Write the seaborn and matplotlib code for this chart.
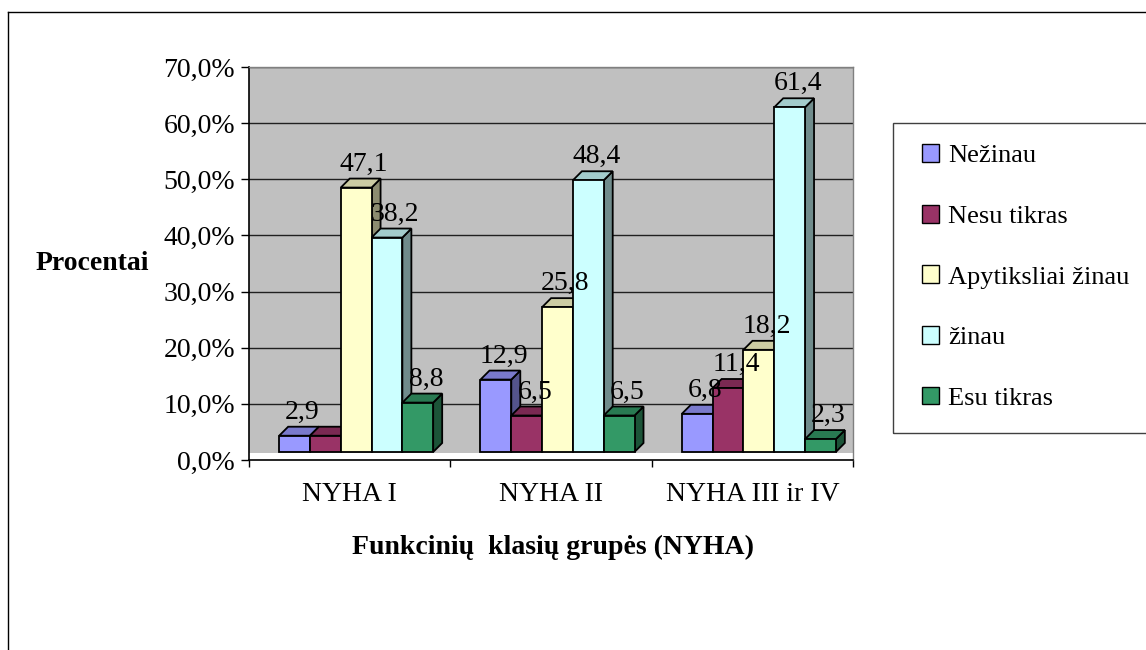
import numpy as np
import pandas as pd
import matplotlib
matplotlib.use("Agg")
import matplotlib.pyplot as plt
import seaborn as sns
from matplotlib.patches import Polygon, Rectangle
from matplotlib.lines import Line2D
from matplotlib.transforms import ScaledTranslation, IdentityTransform
from matplotlib.colors import to_rgb

# ---- data ----
groups = ["NYHA I", "NYHA II", "NYHA III ir IV"]
answers = ["Nežinau", "Nesu tikras", "Apytiksliai žinau", "žinau", "Esu tikras"]
nezinau = [2.9, 12.9, 6.8]
nesu_tikras = [2.9, 6.5, 11.4]
apytiksliai_zinau = [47.1, 25.8, 18.2]
zinau = [38.2, 48.4, 61.4]
esu_tikras = [8.8, 6.5, 2.3]
# value labels drawn above the bars (one "2,9" only in the first group)
show_label = [[True, True, True], [False, True, True], [True, True, True],
              [True, True, True], [True, True, True]]
colors = ["#9999FF", "#993366", "#FFFFCC", "#CCFFFF", "#339966"]
yticks = [0, 10, 20, 30, 40, 50, 60, 70]

series = [nezinau, nesu_tikras, apytiksliai_zinau, zinau, esu_tikras]
df = pd.DataFrame({
    "grupe": groups * len(answers),
    "atsakymas": np.repeat(answers, len(groups)),
    "procentai": np.concatenate(series),
})

plt.rcParams["font.family"] = ["Liberation Serif", "DejaVu Serif"]
FS = 20

W, H = 1146, 650
DPI = 100
fig = plt.figure(figsize=(W / DPI, H / DPI), dpi=DPI)
fig.patch.set_facecolor("white")
ax = fig.add_axes([249 / W, (H - 460) / H, (853 - 249) / W, (460 - 67) / H])
ax.set_facecolor("#C0C0C0")

sns.barplot(data=df, x="grupe", y="procentai", hue="atsakymas",
            order=groups, hue_order=answers, palette=colors, saturation=1,
            width=0.765, errorbar=None, edgecolor="black", linewidth=1.3,
            legend=False, ax=ax)

ax.set_xlim(-0.5, 2.5)
ax.set_ylim(0, 70)

# axis styling
ax.set_yticks(yticks)
ax.set_yticklabels([f"{v:.1f}%".replace(".", ",") for v in yticks], fontsize=FS)
ax.tick_params(axis="y", direction="out", length=6, width=1, pad=4, colors="black")
ax.set_xticks(range(len(groups)))
ax.set_xticklabels(groups, fontsize=FS)
ax.tick_params(axis="x", which="major", length=0, pad=16)
ax.set_xticks([-0.5, 0.5, 1.5, 2.5], minor=True)
ax.tick_params(axis="x", which="minor", direction="out", length=5, width=1)
ax.set_xlabel("")
ax.set_ylabel("")
ax.grid(axis="y", color="#202020", linewidth=1, zorder=0)
ax.set_axisbelow(True)
for s in ["left", "bottom"]:
    ax.spines[s].set_color("black")
    ax.spines[s].set_linewidth(1.2)
for s in ["top", "right"]:
    ax.spines[s].set_color("#808080")
    ax.spines[s].set_linewidth(1)

# white floor strip in front of the wall
floor_h = 7 / ax.bbox.height
ax.add_patch(Rectangle((0, 0), 1, floor_h, transform=ax.transAxes,
                       facecolor="white", edgecolor="none", zorder=1))

# 3D look: shift the front faces and add top / side faces
shift = ScaledTranslation(6.5 / DPI, 8 / DPI, fig.dpi_scale_trans)
front = ax.transData + shift
depth = 9  # pixels
for i, cont in enumerate(ax.containers):
    base = np.array(to_rgb(colors[i]))
    top_c = base * 0.8
    side_c = base * 0.55
    for j, rect in enumerate(cont.patches):
        z = 3 + i * 0.1
        rect.set_transform(front)
        rect.set_zorder(z + 0.02)
        x0 = rect.get_x()
        x1 = x0 + rect.get_width()
        h = rect.get_height()
        (ax0, ay0), (ax1, ay1) = front.transform([(x0, 0), (x1, h)])
        top = [(ax0, ay1), (ax1, ay1), (ax1 + depth, ay1 + depth), (ax0 + depth, ay1 + depth)]
        side = [(ax1, ay0), (ax1 + depth, ay0 + depth), (ax1 + depth, ay1 + depth), (ax1, ay1)]
        for pts, c in ((side, side_c), (top, top_c)):
            ax.add_patch(Polygon(pts, closed=True, facecolor=c, edgecolor="black",
                                 linewidth=1.3, transform=IdentityTransform(),
                                 zorder=z, clip_on=False))
        if show_label[i][j]:
            ax.annotate(f"{h:.1f}".replace(".", ","), (x0 + rect.get_width() / 2, h),
                        xytext=(6.5 + 8, 8 + 17), textcoords="offset pixels",
                        ha="center", va="baseline", fontsize=FS, zorder=10)

# axis titles
fig.text(92 / W, 1 - 264 / H, "Procentai", fontsize=FS, fontweight="bold",
         ha="center", va="center")
fig.text(553 / W, 1 - 547 / H, "Funkcinių  klasių grupės (NYHA)", fontsize=FS,
         fontweight="bold", ha="center", va="center")

# legend
handles = [Rectangle((0, 0), 1, 1, facecolor=c, edgecolor="black", linewidth=1)
           for c in colors]
leg = fig.legend(handles, answers, loc="center left",
                 bbox_to_anchor=(922 / W, 1 - 277 / H), frameon=False,
                 fontsize=19, handlelength=0.65, handleheight=0.65,
                 handletextpad=0.35, labelspacing=1.42, borderpad=0,
                 borderaxespad=0)
fig.add_artist(Rectangle((893 / W, 1 - 433 / H), (1160 - 893) / W, (433 - 123) / H,
                         transform=fig.transFigure, facecolor="none",
                         edgecolor="#404040", linewidth=1))

# outer chart border
fig.add_artist(Line2D([8 / W, 8 / W], [0, 1 - 12 / H], transform=fig.transFigure,
                      color="black", linewidth=1))
fig.add_artist(Line2D([8 / W, 1], [1 - 12 / H, 1 - 12 / H], transform=fig.transFigure,
                      color="black", linewidth=1))

fig.savefig("out.png", dpi=DPI)
